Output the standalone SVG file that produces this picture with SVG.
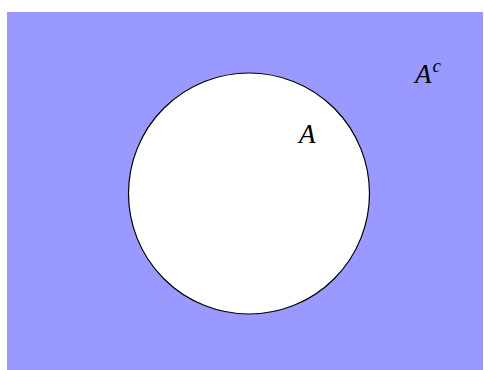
<svg xmlns="http://www.w3.org/2000/svg" width="484" height="370" viewBox="0 0 484 370">
<style>
.lbl{font-family:"Liberation Serif","Times New Roman",serif;font-style:italic;font-size:27px;fill:#000}
.sup{font-family:"Liberation Serif","Times New Roman",serif;font-style:italic;font-size:19px;fill:#000}
</style>
<rect x="0" y="0" width="484" height="370" fill="#ffffff"/>
<g id="complement">
<rect x="7" y="12" width="476" height="358" fill="#9999ff"/>
</g>
<g id="setA">
<circle cx="249" cy="193.5" r="120.5" fill="#ffffff" stroke="#000" stroke-width="1.2"/>
</g>
<g id="labels">
<text class="lbl" x="299" y="143">A</text>
<text class="lbl" x="415" y="83">A<tspan class="sup" dx="1" dy="-11">c</tspan></text>
</g>
</svg>
